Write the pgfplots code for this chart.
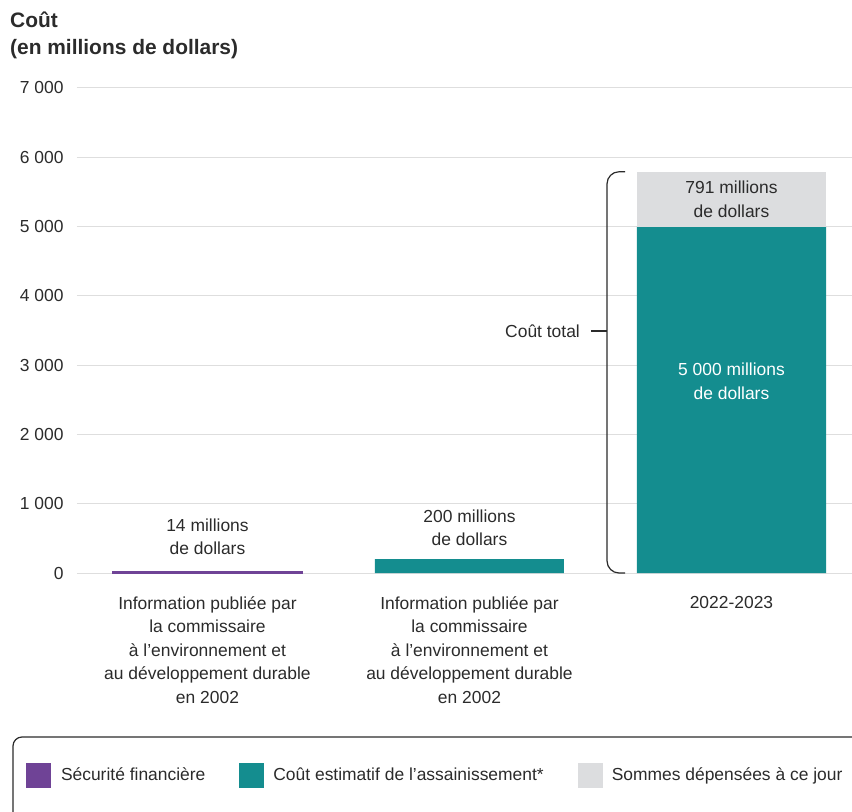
\documentclass[border=0pt]{standalone}
\usepackage{pgfplots}
\pgfplotsset{compat=1.18}
\usepackage{fontspec}
\setmainfont{Liberation Sans}
\definecolor{purp}{HTML}{6F4396}
\definecolor{teal2}{HTML}{148D8F}
\definecolor{lgray}{HTML}{DCDDDF}
\definecolor{txt}{HTML}{2B2B2B}
\definecolor{gridc}{HTML}{DEDEDE}
\begin{document}
\begin{tikzpicture}[x=1bp,y=1bp,font=\fontsize{17.5}{23.5}\selectfont,text=txt]
\begin{axis}[
  at={(0,0)}, anchor=south west,
  scale only axis, width=775bp, height=485bp,
  xmin=-0.498, xmax=2.46, ymin=0, ymax=7000,
  ybar, bar width=0.7214, bar shift=0pt,
  axis line style={draw=none},
  major tick length=0pt,
  xtick={0,1,2},
  xticklabels={{Information publiée par\\la commissaire\\à l’environnement et\\au développement durable\\en 2002},
               {Information publiée par\\la commissaire\\à l’environnement et\\au développement durable\\en 2002},
               {2022-2023}},
  xticklabel style={align=center, anchor=north, yshift=-20bp, text=txt, font=\fontsize{17.5}{23.5}\selectfont},
  ytick={0,1000,2000,3000,4000,5000,6000,7000},
  yticklabels={0,1 000,2 000,3 000,4 000,5 000,6 000,7 000},
  yticklabel style={anchor=east, xshift=-10bp, text=txt, font=\fontsize{17.5}{18}\selectfont},
  ymajorgrids, grid style={gridc, line width=1bp},
  clip=false,
  area legend,
  legend columns=3,
  legend style={draw=none, fill=none, inner sep=0pt, outer sep=0pt,
    at={(axis description cs:-0.0658,-0.4165)}, anchor=west,
    font=\fontsize{17.5}{18}\selectfont, text=txt,
    /tikz/every even column/.append style={column sep=34bp},
    nodes={inner sep=0pt, outer xsep=0pt}},
  legend image code/.code={\path[#1, draw=none] (0bp,-12.5bp) rectangle (25bp,12.5bp); \path (34bp,0) ;},
]
\addplot[fill=purp, draw=purp, line width=2bp] coordinates {(0,14)};
\addlegendentry{Sécurité financière}
\addplot[fill=teal2, draw=none] coordinates {(1,200) (2,5000)};
\addlegendentry{Coût estimatif de l’assainissement*}
\addplot[fill=lgray, draw=none] coordinates {(2,5791)};
\addlegendentry{Sommes dépensées à ce jour}
\addplot[fill=teal2, draw=none, forget plot] coordinates {(2,5000)};
\node[align=center] at (axis cs:0,520) {14 millions\\de dollars};
\node[align=center] at (axis cs:1,650) {200 millions\\de dollars};
\node[align=center] at (axis cs:2,5395) {791 millions\\de dollars};
\node[align=center, text=white] at (axis cs:2,2770) {5 000 millions\\de dollars};
\node[anchor=east, inner sep=0pt] at (axis cs:1.422,3493) {Coût total};
\draw[txt, line width=1.2bp, rounded corners=12bp] (axis cs:1.594,5791) -- (axis cs:1.525,5791) -- (axis cs:1.525,0) -- (axis cs:1.594,0);
\draw[txt, line width=1.2bp] (axis cs:1.4637,3493) -- (axis cs:1.525,3493);
\end{axis}
\node[anchor=north west, align=left, inner sep=0pt, font=\bfseries\fontsize{21}{27}\selectfont] at (-67,561) {Coût\\(en millions de dollars)};
\draw[txt, line width=1.2bp, rounded corners=9bp] (-64,-280) -- (-64,-164) -- (820,-164);
\pgfresetboundingbox
\useasboundingbox (-77,-239) rectangle (775,573);
\end{tikzpicture}
\end{document}
